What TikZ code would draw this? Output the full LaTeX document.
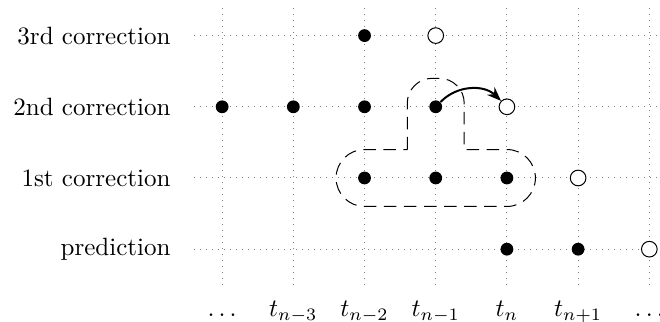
\documentclass[tikz,border=0pt]{standalone}
\usepackage{tikz}
\usetikzlibrary{arrows.meta}

\begin{document}
\begin{tikzpicture}[
  gridline/.style={gray,dotted,step=1},
  rowlabel/.style={anchor=east},
  timelabel/.style={anchor=base},
  known/.style={circle,fill=black,inner sep=0pt,minimum size=1.8mm},
  unknown/.style={circle,draw=black,fill=white,inner sep=0pt,minimum size=2.2mm},
  stencil/.style={dash pattern=on 5pt off 3pt},
  arrow/.style={-{Stealth[length=2mm]},thick}
]
\clip (-3.12,-1.01) rectangle (6.15,3.50);
\draw[gridline] (-0.4,-0.5) grid (6.4,3.4);
% rows
\node[rowlabel] (lthird) at (-0.6,3) {3rd correction};
\node[rowlabel] (lsecond) at (-0.6,2) {2nd correction};
\node[rowlabel] (lfirst) at (-0.6,1) {1st correction};
\node[rowlabel] (lpred) at (-0.6,0) {prediction};
% time axis
\node[timelabel] (tl) at (0,-0.95) {$\dots$};
\node[timelabel] (tnm3) at (1,-0.95) {$t_{n-3}$};
\node[timelabel] (tnm2) at (2,-0.95) {$t_{n-2}$};
\node[timelabel] (tnm1) at (3,-0.95) {$t_{n-1}$};
\node[timelabel] (tn) at (4,-0.95) {$t_n$};
\node[timelabel] (tnp1) at (5,-0.95) {$t_{n+1}$};
\node[timelabel] (tr) at (6,-0.95) {$\dots$};
% stencil
\draw[stencil] (2.6,1.4) [rounded corners=0.35cm] -- (2.6,2.4) -- (3.4,2.4) [sharp corners] -- (3.4,1.4)
  [rounded corners=0.4cm] -- (4.4,1.4) -- (4.4,0.6) -- (1.6,0.6) -- (1.6,1.4) [sharp corners] -- cycle;
% values
\node[known] (third2) at (2,3) {};
\node[unknown] (third3) at (3,3) {};
\node[known] (second0) at (0,2) {};
\node[known] (second1) at (1,2) {};
\node[known] (second2) at (2,2) {};
\node[known] (second3) at (3,2) {};
\node[unknown] (second4) at (4,2) {};
\node[known] (first2) at (2,1) {};
\node[known] (first3) at (3,1) {};
\node[known] (first4) at (4,1) {};
\node[unknown] (first5) at (5,1) {};
\node[known] (pred4) at (4,0) {};
\node[known] (pred5) at (5,0) {};
\node[unknown] (pred6) at (6,0) {};
\draw[arrow] (second3) to[bend left=45] (second4);
\end{tikzpicture}
\end{document}
